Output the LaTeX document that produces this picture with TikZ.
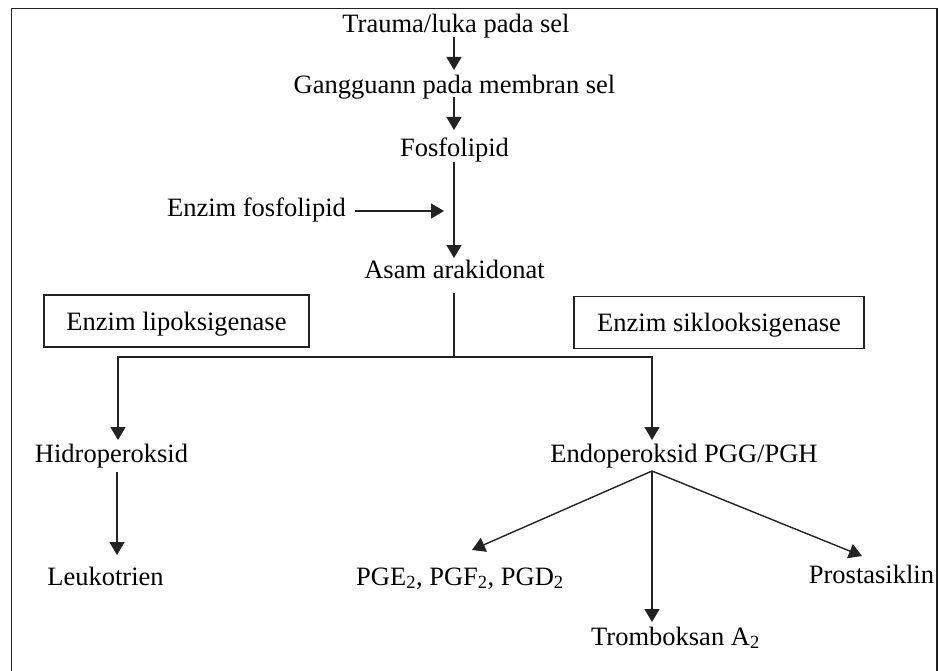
\documentclass[tikz,border=0pt]{standalone}
\usepackage{fontspec}
\setmainfont{Liberation Serif}
\usetikzlibrary{arrows.meta,calc}
\definecolor{ink}{HTML}{222222}
\begin{document}
\begin{tikzpicture}[x=1pt,y=-1pt,
  lbl/.style={anchor=base,inner sep=0pt,font=\fontsize{26.5}{30}\selectfont},
  arr/.style={line width=1.4pt,draw=ink,-{Triangle[width=15pt,length=13pt]}},
  ln/.style={line width=1.4pt,draw=ink},
  enzbox/.style={draw=ink,line width=1.3pt,inner sep=0pt,minimum height=52pt,
    text height=24pt,text depth=6pt,font=\fontsize{26.5}{30}\selectfont},
  frame/.style={line width=1.6pt,draw=ink}]
\useasboundingbox (0,0) rectangle (939,671);
% outer frame (bottom cut off)
\draw[frame] (11.5,671) -- (11.5,8.5) -- (937,8.5) -- (937,671);

% text nodes
\node[lbl] (trauma) at (456,33) {Trauma/luka pada sel};
\node[lbl] (gang) at (454.5,94) {Gangguann pada membran sel};
\node[lbl] (fos) at (454.5,157) {Fosfolipid};
\node[lbl] (enzf) at (256.5,216) {Enzim fosfolipid};
\node[lbl] (asam) at (454.5,278) {Asam arakidonat};
\node[enzbox,minimum width=265pt] (lipo) at (176.5,321) {Enzim lipoksigenase};
\node[enzbox,minimum width=290pt] (siklo) at (719,322.5) {Enzim siklooksigenase};
\node[lbl] (hidro) at (111.5,462) {Hidroperoksid};
\node[lbl] (leuko) at (105.5,585) {Leukotrien};
\node[lbl] (endo) at (684,462) {Endoperoksid PGG/PGH};
\node[lbl] (pge) at (460,585) {PGE\textsubscript{2}, PGF\textsubscript{2}, PGD\textsubscript{2}};
\node[lbl] (prosta) at (871.5,583) {Prostasiklin};
\node[lbl] (trombo) at (675.5,645) {Tromboksan A\textsubscript{2}};

% helper coordinates
\coordinate (enzTip) at (444,211);
\coordinate (junc) at (454,357);
\coordinate (efan) at ($(endo.base)+(-32,9)$);

% connectors
\draw[arr] ($(trauma.base)+(-2,4)$) -- ($(gang.base)+(-0.5,-24)$);
\draw[arr] ($(gang.base)+(-0.5,3)$) -- ($(fos.base)+(-0.5,-27)$);
\draw[arr] ($(fos.base)+(-0.5,5)$) -- ($(asam.base)+(-0.5,-20)$);
\draw[arr] ($(enzf.base east)+(9,-5)$) -- (enzTip);
\draw[ln] ($(asam.base)+(-0.5,15)$) -- (junc);
\draw[arr] (junc) -| ($(hidro.base)+(6.5,-22)$);
\draw[arr] (junc) -| ($(endo.base)+(-32,-22)$);
\draw[arr] ($(hidro.base)+(5.5,10)$) -- ($(leuko.base)+(11.5,-30)$);
\draw[arr] (efan) -- ($(pge.base)+(12,-35)$);
\draw[arr] (efan) -- ($(trombo.base)+(-23.5,-23)$);
\draw[arr] (efan) -- ($(prosta.base)+(-9.5,-27)$);
\end{tikzpicture}
\end{document}
